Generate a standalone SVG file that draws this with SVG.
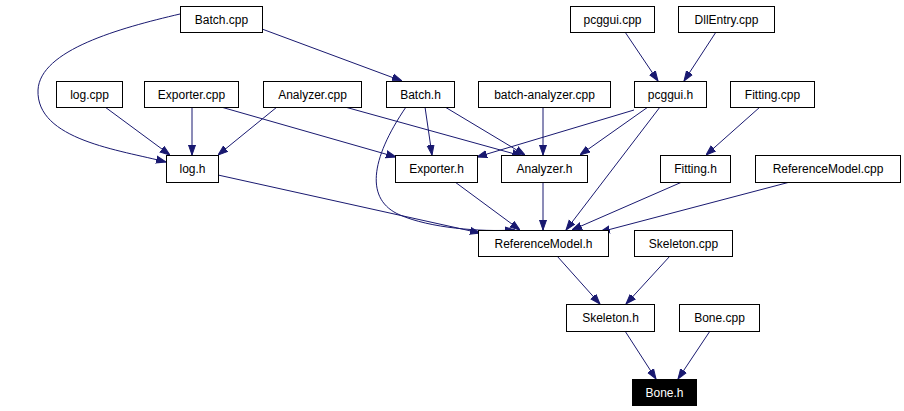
<svg xmlns="http://www.w3.org/2000/svg" width="904" height="411" viewBox="0 0 904 411">
<style>
.n rect{fill:#fff;stroke:#000;stroke-width:1}
.n text{font-family:"Liberation Sans",Arial,sans-serif;font-size:12px;text-anchor:middle;fill:#000}
#Bone_h rect{fill:#000}
#Bone_h text{fill:#fff}
#edges path{fill:none;stroke:#191970;stroke-width:1;marker-end:url(#a)}
</style>
<defs><marker id="a" viewBox="0 0 10 10" refX="10" refY="5" markerWidth="10" markerHeight="10" markerUnits="userSpaceOnUse" orient="auto"><path d="M0,1.5L10,5L0,8.5z" fill="#191970" stroke="#191970"/></marker></defs>
<rect width="904" height="411" fill="#fff"/>
<g id="edges">
<path d="M180,14C120,28 40,50 38,90C36,140 120,150 166,162"/>
<path d="M262,29L402,81"/>
<path d="M625,32L658,81"/>
<path d="M716,32L684,81"/>
<path d="M105,107L170,155"/>
<path d="M192,107L192,155"/>
<path d="M277,107L218,155"/>
<path d="M221,107L396,157"/>
<path d="M345,107L522,156"/>
<path d="M425,107L432,155"/>
<path d="M445,107L525,155"/>
<path d="M406,107C370,160 365,200 400,215C430,228 480,232 515,230"/>
<path d="M543,107L543,155"/>
<path d="M634,110L477,157"/>
<path d="M648,107L580,155"/>
<path d="M660,107L566,230"/>
<path d="M760,107L706,155"/>
<path d="M218,175L480,233"/>
<path d="M455,182L520,230"/>
<path d="M543,182L543,230"/>
<path d="M682,182L572,230"/>
<path d="M790,182L600,232"/>
<path d="M557,256L600,304"/>
<path d="M670,256L626,304"/>
<path d="M625,331L656,379"/>
<path d="M710,331L678,379"/>
</g>
<g id="Batch_cpp" class="n"><rect x="180.5" y="6.5" width="82" height="26"/><text x="221.5" y="24">Batch.cpp</text></g>
<g id="pcggui_cpp" class="n"><rect x="570.5" y="6.5" width="84" height="26"/><text x="612.5" y="24">pcggui.cpp</text></g>
<g id="DllEntry_cpp" class="n"><rect x="678.5" y="6.5" width="96" height="26"/><text x="726.5" y="24">DllEntry.cpp</text></g>
<g id="log_cpp" class="n"><rect x="56.5" y="81.5" width="66" height="26"/><text x="89.5" y="99">log.cpp</text></g>
<g id="Exporter_cpp" class="n"><rect x="144.5" y="81.5" width="94" height="26"/><text x="191.5" y="99">Exporter.cpp</text></g>
<g id="Analyzer_cpp" class="n"><rect x="263.5" y="81.5" width="98" height="26"/><text x="312.5" y="99">Analyzer.cpp</text></g>
<g id="Batch_h" class="n"><rect x="386.5" y="81.5" width="68" height="26"/><text x="420.5" y="99">Batch.h</text></g>
<g id="batch_analyzer_cpp" class="n"><rect x="478.5" y="81.5" width="132" height="26"/><text x="544.5" y="99">batch-analyzer.cpp</text></g>
<g id="pcggui_h" class="n"><rect x="634.5" y="81.5" width="72" height="26"/><text x="670.5" y="99">pcggui.h</text></g>
<g id="Fitting_cpp" class="n"><rect x="730.5" y="81.5" width="84" height="26"/><text x="772.5" y="99">Fitting.cpp</text></g>
<g id="log_h" class="n"><rect x="166.5" y="155.5" width="52" height="27"/><text x="192.5" y="173">log.h</text></g>
<g id="Exporter_h" class="n"><rect x="395.5" y="155.5" width="82" height="27"/><text x="436.5" y="173">Exporter.h</text></g>
<g id="Analyzer_h" class="n"><rect x="501.5" y="155.5" width="86" height="27"/><text x="544.5" y="173">Analyzer.h</text></g>
<g id="Fitting_h" class="n"><rect x="660.5" y="155.5" width="70" height="27"/><text x="695.5" y="173">Fitting.h</text></g>
<g id="ReferenceModel_cpp" class="n"><rect x="755.5" y="155.5" width="145" height="27"/><text x="828" y="173">ReferenceModel.cpp</text></g>
<g id="ReferenceModel_h" class="n"><rect x="478.5" y="230.5" width="130" height="26"/><text x="543.5" y="248">ReferenceModel.h</text></g>
<g id="Skeleton_cpp" class="n"><rect x="634.5" y="230.5" width="98" height="26"/><text x="683.5" y="248">Skeleton.cpp</text></g>
<g id="Skeleton_h" class="n"><rect x="566.5" y="304.5" width="88" height="27"/><text x="610.5" y="322">Skeleton.h</text></g>
<g id="Bone_cpp" class="n"><rect x="679.5" y="304.5" width="80" height="27"/><text x="719.5" y="322">Bone.cpp</text></g>
<g id="Bone_h" class="n"><rect x="632.5" y="379.5" width="64" height="26"/><text x="664.5" y="397">Bone.h</text></g>
</svg>
